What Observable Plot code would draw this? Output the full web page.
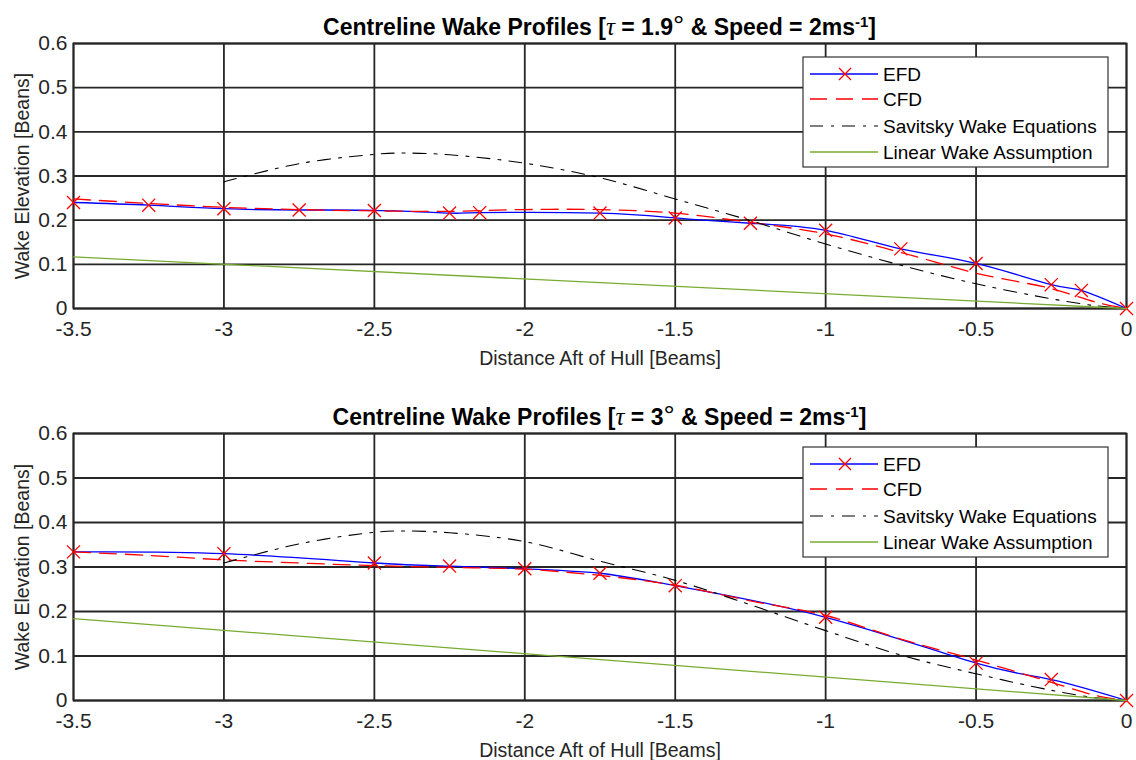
<!DOCTYPE html>
<html><head><meta charset="utf-8">
<script src="https://cdn.jsdelivr.net/npm/d3@7"></script>
<script src="https://cdn.jsdelivr.net/npm/@observablehq/plot@0.6"></script>
<style>
body{margin:0;background:#fff;font-family:"Liberation Sans",Arial,sans-serif;}
#wrap{width:1136px;height:760px;}
svg{display:block;overflow:visible}
</style></head><body><div id="wrap"></div>
<script>
// ---------- data ----------
const xTicks = [-3.5,-3,-2.5,-2,-1.5,-1,-0.5,0];
const yTicks = [0,0.1,0.2,0.3,0.4,0.5,0.6];
const seriesNames = ["EFD","CFD","Savitsky Wake Equations","Linear Wake Assumption"];
const xLabel = "Distance Aft of Hull [Beams]";
const yLabel = "Wake Elevation [Beans]";

// Panel 1: tau = 1.9 deg
const efdX1 = [-3.5,-3.25,-3,-2.75,-2.5,-2.25,-2.15,-1.75,-1.5,-1.25,-1,-0.75,-0.5,-0.25,-0.15,0];
const efdY1 = [0.240,0.234,0.226,0.223,0.222,0.216,0.217,0.216,0.205,0.193,0.177,0.135,0.102,0.054,0.041,0];
const cfdX1 = [-3.5,-3.25,-3,-2.75,-2.5,-2.25,-2,-1.75,-1.5,-1.25,-1,-0.75,-0.5,-0.25,-0.1,0];
const cfdY1 = [0.248,0.238,0.229,0.224,0.221,0.220,0.224,0.224,0.216,0.195,0.169,0.127,0.080,0.045,0.014,0];
const savX1 = [-3,-2.75,-2.5,-2.4,-2.25,-2,-1.75,-1.5,-1.25,-1,-0.75,-0.5,-0.25,-0.1,0];
const savY1 = [0.287,0.328,0.349,0.352,0.348,0.329,0.296,0.248,0.199,0.146,0.098,0.056,0.022,0.006,0];
const linX1 = [-3.5,0];
const linY1 = [0.117,0];

// Panel 2: tau = 3 deg
const efdX2 = [-3.5,-3,-2.5,-2.25,-2,-1.75,-1.5,-1,-0.5,-0.25,0];
const efdY2 = [0.334,0.330,0.309,0.302,0.296,0.286,0.258,0.187,0.084,0.047,0];
const cfdX2 = [-3.5,-3.25,-3,-2.75,-2.5,-2.25,-2,-1.75,-1.5,-1.25,-1,-0.75,-0.5,-0.25,-0.1,0];
const cfdY2 = [0.334,0.326,0.316,0.309,0.303,0.299,0.295,0.281,0.259,0.224,0.191,0.138,0.091,0.041,0.011,0];
const savX2 = [-3,-2.75,-2.5,-2.4,-2.25,-2,-1.75,-1.5,-1.25,-1,-0.75,-0.5,-0.25,-0.1,0];
const savY2 = [0.309,0.352,0.378,0.381,0.377,0.357,0.313,0.270,0.215,0.157,0.102,0.060,0.023,0.006,0];
const linX2 = [-3.5,0];
const linY2 = [0.184,0];

const tau1 = "1.9", tau2 = "3";

// ---------- styles ----------
const GRID = "#262626";
const sty = [
  {stroke:"#0000ff", strokeWidth:1.3, dash:null, marker:true},
  {stroke:"#ff0000", strokeWidth:1.3, dash:"17,9", marker:false},
  {stroke:"#000000", strokeWidth:1.1, dash:"13,8,3,8", marker:false},
  {stroke:"#77ac30", strokeWidth:1.3, dash:null, marker:false}
];

const zipXY = (xs, ys) => xs.map((x,i)=>({x, y: ys[i]}));

function panel(opts){
  const {efd, cfd, sav, lin, tau, marginTop, marginBottom, titleY, legendY} = opts;
  const fig = Plot.plot({
    width: 1136, height: 380,
    marginLeft: 73, marginRight: 10, marginTop, marginBottom,
    style: {fontFamily: "Liberation Sans, Arial, sans-serif", fontSize: "21px", color: "#262626", background: "white"},
    x: {domain: [-3.5, 0]},
    y: {domain: [0, 0.6]},
    marks: [
      Plot.gridX(xTicks, {stroke: GRID, strokeOpacity: 1, strokeWidth: 1.8}),
      Plot.gridY(yTicks, {stroke: GRID, strokeOpacity: 1, strokeWidth: 1.8}),
      Plot.frame({stroke: GRID, strokeWidth: 1.8}),
      Plot.axisX({ticks: xTicks, tickSize: 0, tickPadding: 13, tickFormat: d => String(d),
        label: xLabel, labelAnchor: "center", labelOffset: 56, fontSize: 21}),
      Plot.axisY({ticks: yTicks, tickSize: 0, tickPadding: 6, tickFormat: d => String(d),
        label: yLabel, labelAnchor: "center", labelOffset: 58, fontSize: 21}),
      Plot.line(efd, {x: "x", y: "y", stroke: sty[0].stroke, strokeWidth: sty[0].strokeWidth, curve: "natural"}),
      Plot.dot(efd, {x: "x", y: "y", symbol: "times", r: 6, stroke: "#ff0000", strokeWidth: 1.3}),
      Plot.line(cfd, {x: "x", y: "y", stroke: sty[1].stroke, strokeWidth: sty[1].strokeWidth, strokeDasharray: sty[1].dash, curve: "catmull-rom"}),
      Plot.line(sav, {x: "x", y: "y", stroke: sty[2].stroke, strokeWidth: sty[2].strokeWidth, strokeDasharray: sty[2].dash, curve: "catmull-rom"}),
      Plot.line(lin, {x: "x", y: "y", stroke: sty[3].stroke, strokeWidth: sty[3].strokeWidth})
    ]
  });
  const svg = d3.select(fig);
  svg.selectAll('[aria-label="x-axis label"] text').text(xLabel).style("font-size", "19.5px");
  svg.selectAll('[aria-label="y-axis label"] text').text(yLabel).style("font-size", "19.5px");
  // title
  const t = svg.append("text")
    .attr("x", (73 + 1126) / 2).attr("y", titleY)
    .attr("text-anchor", "middle")
    .attr("fill", "#000").style("font-weight", "bold").style("font-size", "23px");
  t.append("tspan").text("Centreline Wake Profiles [");
  t.append("tspan").text("τ").style("font-family", "Liberation Serif, serif").style("font-style", "italic").style("font-weight", "normal").style("font-size", "25px");
  t.append("tspan").text(" = " + tau);
  t.append("tspan").text("°").style("font-weight", "normal").style("font-size", "28px");
  t.append("tspan").text(" & Speed = 2ms");
  t.append("tspan").text("-1").attr("baseline-shift", "super").style("font-size", "15px");
  t.append("tspan").text("]");
  // legend
  const lx = 803, lw = 305, lh = 110;
  const g = svg.append("g").attr("transform", `translate(${lx},${legendY})`);
  g.append("rect").attr("width", lw).attr("height", lh).attr("fill", "#fff").attr("stroke", "#333").attr("stroke-width", 1.2);
  const rows = [17, 42, 69, 95];
  seriesNames.forEach((name, i) => {
    const s = sty[i];
    g.append("line").attr("x1", 7).attr("x2", 75).attr("y1", rows[i]).attr("y2", rows[i])
      .attr("stroke", s.stroke).attr("stroke-width", s.strokeWidth).attr("stroke-dasharray", s.dash);
    if (s.marker) {
      g.append("path").attr("d", "M-6,-6L6,6M-6,6L6,-6").attr("transform", `translate(42,${rows[i]})`)
        .attr("stroke", "#ff0000").attr("stroke-width", 1.3);
    }
    g.append("text").attr("x", 80).attr("y", rows[i]).attr("dy", "0.35em")
      .attr("text-anchor", "start")
      .style("font-size", "19px").attr("fill", "#000").text(name);
  });
  return fig;
}

const wrap = document.getElementById("wrap");
wrap.append(panel({efd: zipXY(efdX1, efdY1), cfd: zipXY(cfdX1, cfdY1), sav: zipXY(savX1, savY1), lin: zipXY(linX1, linY1),
  tau: tau1, marginTop: 43, marginBottom: 72, titleY: 35, legendY: 57}));
wrap.append(panel({efd: zipXY(efdX2, efdY2), cfd: zipXY(cfdX2, cfdY2), sav: zipXY(savX2, savY2), lin: zipXY(linX2, linY2),
  tau: tau2, marginTop: 53, marginBottom: 60, titleY: 45, legendY: 67}));
</script>
</body></html>
